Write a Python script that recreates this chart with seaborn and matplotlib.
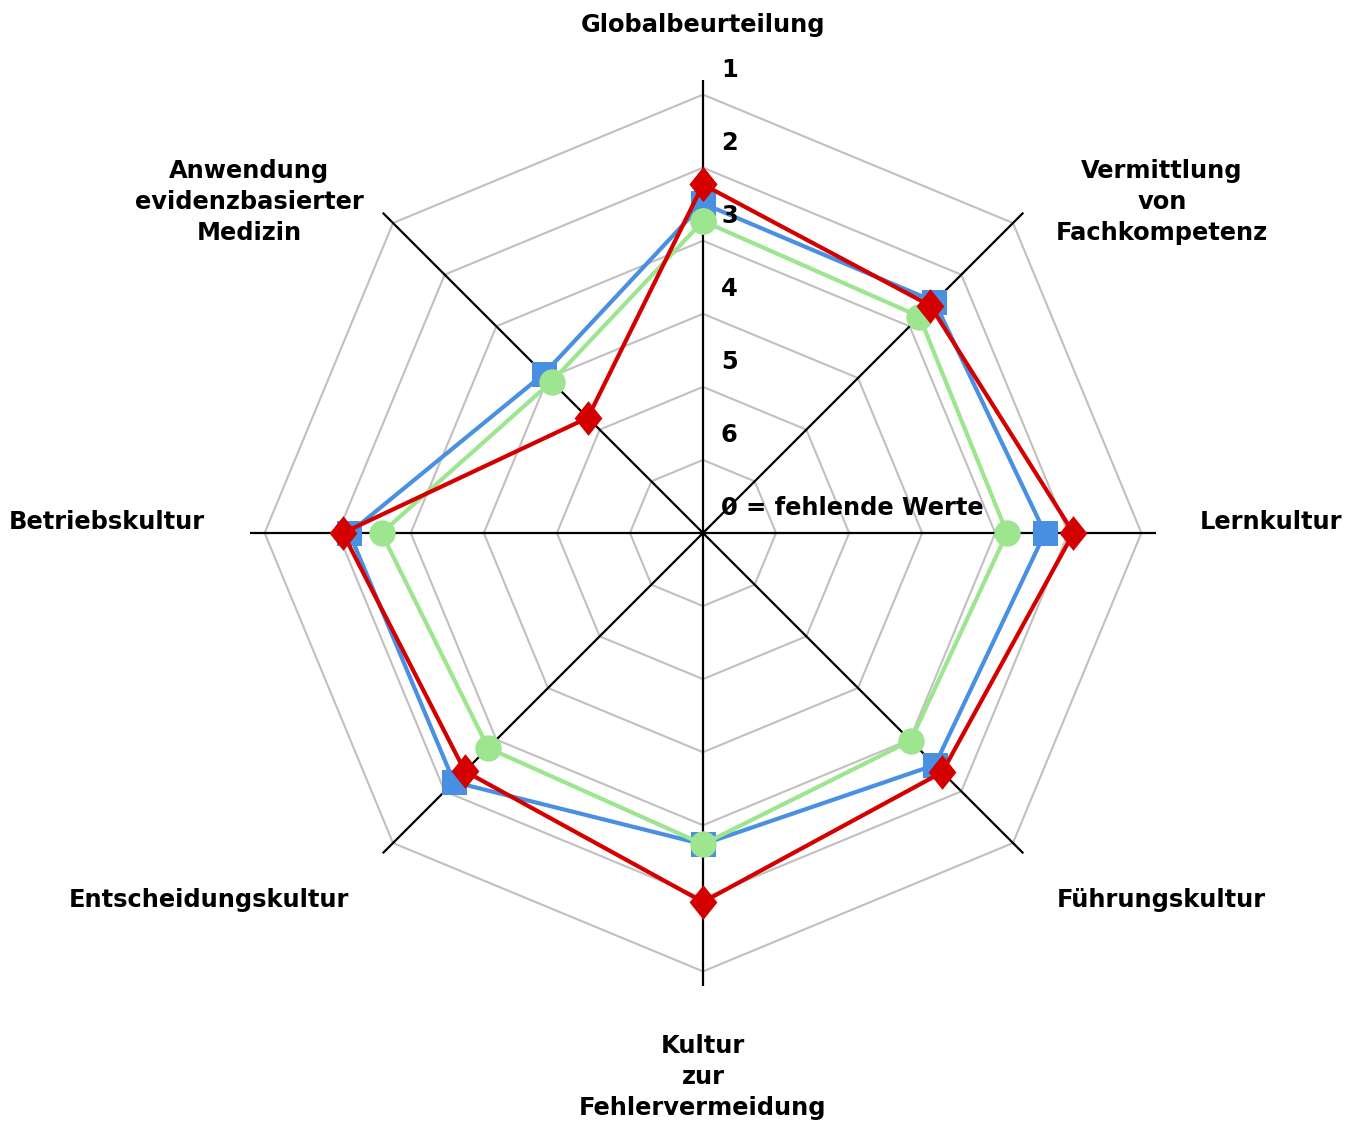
import numpy as np
import pandas as pd
import matplotlib
matplotlib.use("Agg")
import matplotlib.pyplot as plt
import seaborn as sns

# Daten (Skala 1 = aussen, 6 = innen, 0 = fehlende Werte in der Mitte)
kategorien = ["Globalbeurteilung", "Vermittlung\nvon\nFachkompetenz", "Lernkultur",
              "Führungskultur", "Kultur\nzur\nFehlervermeidung", "Entscheidungskultur",
              "Betriebskultur", "Anwendung\nevidenzbasierter\nMedizin"]
serie_blau = [2.49, 2.52, 2.32, 2.51, 2.74, 2.18, 2.16, 3.92]
serie_gruen = [2.73, 2.81, 2.84, 2.98, 2.74, 2.84, 2.60, 4.07]
serie_rot = [2.23, 2.60, 1.93, 2.37, 1.95, 2.39, 2.07, 4.77]
ring_werte = [1, 2, 3, 4, 5, 6]
ring_labels = ["1", "2", "3", "4", "5", "6"]
mitte_label = "0 = fehlende Werte"

W, H = 1361, 1122
sns.set_style("white")
plt.rcParams['font.family'] = ['DejaVu Sans']
plt.rcParams['text.color'] = 'black'
FS = 17.4

fig = plt.figure(figsize=(W / 100, H / 100), dpi=100)
ax = fig.add_axes([250 / W, (H - 533 - 453) / H, 906 / W, 906 / H], projection='polar')
ax.set_theta_zero_location('N')
ax.set_theta_direction(-1)

n = len(kategorien)
winkel = np.deg2rad(np.arange(n) * 360 / n)
winkel_zu = np.append(winkel, winkel[0] + 2 * np.pi)

# Gitter: Achteck-Ringe und Achsen
for r in ring_werte:
    ax.plot(winkel_zu, [r] * (n + 1), color='#c0c0c0', lw=1.5, zorder=1)
for w in winkel:
    ax.plot([w, w], [7, 0.8], color='black', lw=1.6, zorder=2)

# Datenreihen
raute = [(0, 1), (0.8, 0), (0, -1), (-0.8, 0), (0, 1)]
reihen = [("Blau", serie_blau, '#4a90e2', 's', 18),
          ("Gruen", serie_gruen, '#9de58f', 'o', 19),
          ("Rot", serie_rot, '#d40000', raute, 25)]
for name, werte, farbe, marker, ms in reihen:
    df = pd.DataFrame({"winkel": winkel_zu, "wert": werte + werte[:1]})
    sns.lineplot(data=df, x="winkel", y="wert", ax=ax, sort=False, color=farbe,
                 lw=3, marker=marker, markersize=ms, markeredgewidth=0,
                 markeredgecolor=farbe, zorder=3)

ax.set_ylim(7, 0.8)
ax.grid(False)
ax.set_xticks([])
ax.set_yticks([])
ax.set_xlabel("")
ax.set_ylabel("")
ax.spines['polar'].set_visible(False)

# Skalenbeschriftung
for r, lab in zip(ring_werte, ring_labels):
    ax.annotate(lab, xy=(0, r), xytext=(18, 25), textcoords='offset pixels',
                ha='left', va='center', fontsize=FS, fontweight='bold')
ax.annotate(mitte_label, xy=(0, 7), xytext=(18, 25), textcoords='offset pixels',
            ha='left', va='center', fontsize=FS, fontweight='bold')

# Kategorienbeschriftung (Pixelpositionen)
label_pos = [(703, 25, 'center'), (1162, 202, 'center'), (1200, 522, 'left'),
             (1161, 900, 'center'), (703, 1077, 'center'), (209, 900, 'center'),
             (205, 522, 'right'), (249, 202, 'center')]
for lab, (x, y, ha) in zip(kategorien, label_pos):
    fig.text(x / W, 1 - y / H, lab, ha=ha, va='center', multialignment='center',
             fontsize=FS, fontweight='bold', linespacing=1.39)

fig.savefig("out.png", dpi=100)
